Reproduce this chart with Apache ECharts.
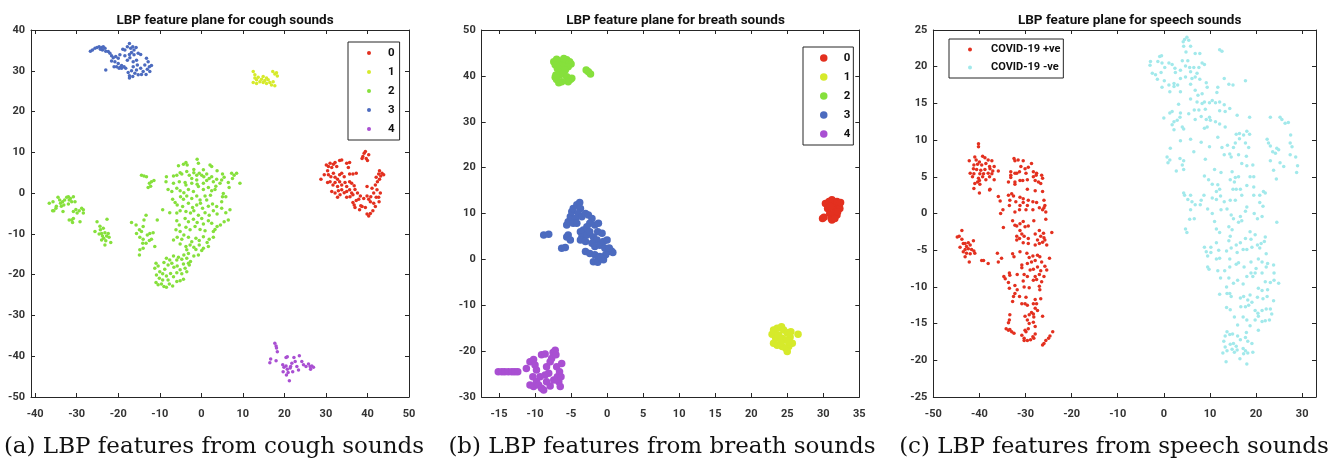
<!DOCTYPE html>
<html>
<head>
<meta charset="utf-8">
<script src="https://cdn.jsdelivr.net/npm/echarts@6/dist/echarts.min.js"></script>
<style>
html, body { margin: 0; padding: 0; background: #fff; }
#chart { width: 1338px; height: 466px; }
</style>
</head>
<body>
<div id="chart"></div>
<script>
// ---- 数据: 咳嗽 (cough) 各类别 ----
var coughCls0 = [[28.8,3.4],[29.6,4.5],[30.1,6.9],[30.4,5.5],[30.6,6.5],[31.0,7.3],[31.4,6.3],[31.8,7.1],[32.2,7.5],[32.6,6.5],[33.3,8.0],[33.8,8.1],[30.6,4.5],[31.2,4.0],[31.8,4.9],[32.2,3.9],[32.8,3.4],[33.3,4.5],[33.8,4.9],[34.4,4.0],[35.0,7.3],[35.7,7.5],[35.4,6.3],[35.7,4.7],[36.5,4.7],[37.3,4.9],[30.4,2.6],[31.0,2.8],[31.7,2.0],[32.2,2.6],[32.8,1.6],[33.3,2.8],[33.8,2.0],[34.6,2.6],[35.0,1.6],[35.7,2.8],[36.2,2.4],[36.8,1.8],[31.4,0.4],[32.2,0.0],[33.0,0.6],[33.8,0.8],[34.4,0.1],[35.0,0.4],[35.7,0.8],[36.2,0.0],[37.0,0.9],[32.8,-1.0],[33.4,-0.4],[35.0,-1.0],[35.8,-0.9],[36.5,-0.4],[37.6,0.0],[38.3,-0.7],[37.3,-1.8],[36.5,-2.3],[36.8,-2.9],[37.9,-1.5],[38.7,-3.3],[37.0,-3.5],[38.1,-4.1],[39.1,-1.3],[39.9,-0.7],[40.3,-1.5],[40.8,-0.9],[41.5,0.0],[39.9,1.6],[41.1,1.2],[41.9,2.0],[42.4,2.8],[42.9,3.4],[43.2,4.2],[43.5,4.9],[43.9,4.5],[42.7,4.7],[42.9,5.5],[42.1,3.9],[42.3,0.8],[42.7,-1.0],[42.8,-2.1],[43.1,0.0],[42.1,-1.0],[40.7,-2.1],[41.5,-2.5],[41.9,-3.3],[41.3,-4.3],[40.7,-5.0],[39.9,-5.1],[40.3,-5.6],[38.4,-3.1],[39.5,-3.5],[38.9,9.0],[39.2,9.8],[39.5,10.2],[39.7,8.5],[40.0,8.0],[38.7,8.5],[40.3,9.4]];
var coughCls1 = [[12.5,29.8],[12.9,29.0],[13.3,27.8],[12.5,27.1],[13.7,28.4],[14.1,27.3],[14.5,27.9],[14.9,28.6],[15.3,27.6],[15.7,26.9],[16.1,27.8],[16.5,27.1],[16.9,26.5],[17.3,27.3],[17.7,29.2],[18.1,29.5],[18.3,28.7],[17.7,26.3],[13.3,26.9],[14.9,27.1],[12.9,28.2],[15.7,28.2],[17.2,29.8]];
var coughCls2 = [
  [-36.6,-2.5],[-35.7,-2.1],[-35.8,-4.3],[-35.0,-3.7],[-34.5,-1.0],[-34.1,-1.7],[-33.9,-2.5],[-33.4,-2.1],[-33.1,-2.9],[-33.3,-4.5],[-32.9,-1.7],[-32.4,-1.0],[-32.0,-0.9],[-31.8,-1.7],[-31.5,-1.3],[-31.2,-2.1],[-30.8,-0.9],[-30.4,-2.1],[-32.0,-2.7],[-30.8,-4.5],[-30.2,-4.0],[-29.9,-4.9],[-29.4,-4.3],[-28.8,-3.7],[-28.4,-4.1],[-28.4,-4.9],[-31.8,-6.6],[-31.2,-6.6],[-30.8,-6.2],[-29.2,-7.0],[-31.0,-7.2],[-33.7,-3.2],[-34.9,-3.2],[-35.5,-4.3],
  [-25.6,-9.4],[-25.1,-7.0],[-24.4,-8.1],[-24.3,-9.0],[-24.0,-9.9],[-23.8,-10.5],[-23.6,-8.6],[-23.5,-11.1],[-23.2,-9.7],[-23.0,-11.7],[-22.8,-10.5],[-22.7,-6.4],[-22.4,-9.9],[-22.2,-10.8],[-21.8,-12.1],[-23.2,-12.7],[-24.0,-11.5],[-24.6,-10.0],
  [-16.8,-7.2],[-15.7,-7.8],[-14.9,-9.0],[-14.4,-9.4],[-14.0,-8.2],[-13.3,-5.4],[-13.8,-6.6],[-14.8,-10.8],[-14.0,-11.3],[-13.0,-10.3],[-12.4,-9.9],[-11.6,-9.7],[-12.0,-11.3],[-12.5,-11.6],[-11.2,-13.1],[-13.3,-12.3],[-14.0,-13.5],[-14.8,-13.9],[-14.9,-15.2],[-14.1,-12.3],[-15.6,-9.9],[-10.6,-6.6],
  [-14.4,4.4],[-13.8,4.2],[-13.2,4.0],[-12.5,2.4],[-12.0,2.8],[-11.4,3.1],[-12.2,1.7],[-12.8,1.4],
  [-5.5,6.7],[-4.3,7.1],[-3.7,7.5],[-3.4,6.9],[-1.0,8.3],[-0.7,7.3],[-1.8,5.8],[0.5,5.7],[2.1,6.9],[2.5,6.5],[3.8,5.5],[5.1,4.7],[7.3,4.9],[7.9,4.4],[8.5,4.9],[7.5,3.6],[9.3,2.4],
  [-8.4,4.0],[-8.5,2.8],[-6.7,4.2],[-5.9,4.4],[-5.1,5.0],[-4.7,4.7],[-3.5,5.3],[-2.9,4.4],[-2.3,3.6],[-1.8,5.0],[-1.1,4.4],[-0.5,4.9],[0.1,4.4],[0.6,4.0],[1.3,4.7],[1.9,3.6],[2.5,4.0],[2.9,2.8],[3.7,3.4],[4.9,3.2],[5.5,3.9],[-6.7,2.4],[-5.3,2.8],[-3.9,2.6],[-2.3,2.4],[-1.1,3.2],[0.5,2.4],[1.3,3.1],[3.5,1.7],[4.5,2.4],[6.5,2.6],[6.7,1.4],
  [-8.0,0.9],[-7.1,0.4],[-5.9,1.2],[-5.1,0.6],[-4.2,0.1],[-3.1,0.9],[-1.9,0.4],[-0.7,1.6],[0.5,0.9],[1.7,1.4],[2.5,0.6],[3.3,0.9],[-3.7,2.0],[-1.0,2.2],[5.3,-0.1],[5.9,-0.9],[5.1,-0.9],[-6.9,-1.5],[-6.3,-2.3],[-5.0,-0.9],[-4.3,-1.5],[-3.5,-0.7],[-2.3,-1.3],[-1.1,-0.7],[-0.3,-1.7],[0.9,-0.7],[1.3,-1.7],[2.2,-0.5],[2.7,-2.7],[4.9,-2.1],
  [-5.8,-2.9],[-4.5,-3.3],[-3.1,-2.5],[-2.1,-3.5],[-1.1,-2.9],[-0.2,-2.5],[0.3,-3.7],[1.7,-3.2],[3.7,-3.3],[4.9,-3.7],[5.9,-4.8],[6.9,-4.1],[2.9,-4.3],[3.8,-5.1],[-5.9,-4.9],[-5.1,-4.3],[-3.7,-4.5],[-2.6,-4.9],[-1.8,-4.3],[-0.7,-5.4],[0.9,-4.8],[1.9,-5.4],[-7.6,-4.8],[-9.3,-4.1],
  [-5.9,-6.8],[-5.3,-7.8],[-3.9,-6.2],[-3.1,-7.0],[-1.9,-6.4],[-1.0,-7.2],[0.1,-6.2],[0.5,-7.6],[1.7,-6.8],[2.5,-7.4],[3.3,-8.9],[3.8,-8.2],[4.6,-7.8],[5.5,-7.0],[6.5,-6.6],[-6.1,-9.0],[-5.1,-9.4],[-3.7,-8.4],[-2.7,-9.0],[-1.5,-8.2],[-0.3,-8.9],[0.9,-9.2],[2.9,-9.4],
  [-6.7,-11.5],[-5.8,-10.8],[-4.7,-11.3],[-4.2,-10.3],[-3.1,-10.8],[-2.3,-11.9],[-1.3,-11.1],[-0.5,-11.6],[0.5,-10.7],[1.4,-12.1],[1.9,-11.3],[2.9,-10.8],[-5.1,-12.5],[-3.7,-13.1],[-2.7,-12.7],[-1.8,-13.3],[-0.5,-12.7],[0.5,-13.5],[1.7,-13.1],[-3.5,-13.9],[-1.3,-13.8],[0.1,-14.1],
  [-6.7,-15.4],[-5.5,-15.7],[-4.2,-15.2],[-3.1,-14.8],[-1.8,-15.4],[-0.7,-15.2],[-8.4,-16.0],[-7.6,-16.4],[-5.9,-16.4],[-4.7,-16.2],[-3.5,-16.0],[-2.6,-16.8],[-3.1,-17.2],[-4.3,-17.4],
  [-10.9,-17.2],[-11.2,-18.4],[-10.4,-17.9],[-10.0,-19.3],[-9.0,-17.0],[-8.8,-18.7],[-8.0,-17.6],[-7.1,-17.2],[-6.6,-18.2],[-5.8,-17.9],[-5.1,-18.8],[-3.9,-18.4],[-2.9,-17.6],[-10.8,-20.1],[-10.1,-20.9],[-9.3,-19.8],[-8.4,-20.3],[-7.4,-19.7],[-6.7,-20.5],[-5.9,-19.5],[-4.7,-19.8],[-3.5,-19.3],[-10.9,-21.9],[-10.4,-22.5],[-9.6,-22.3],[-9.0,-22.9],[-8.4,-23.1],[-7.7,-22.3],[-6.9,-22.8],[-5.9,-21.7],[-5.1,-21.5],[-4.3,-21.1],[-9.3,-21.3],[-8.0,-21.3]
];
var coughCls3 = [[-26.7,34.8],[-26.2,35.1],[-25.6,35.5],[-25.1,35.7],[-24.6,35.9],[-24.0,35.7],[-23.6,35.9],[-23.2,35.5],[-23.8,35.1],[-24.3,35.3],[-23.0,34.8],[-22.4,34.7],[-22.0,34.3],[-21.6,33.7],[-21.2,33.2],[-20.6,33.5],[-20.0,33.1],[-21.6,32.4],[-20.8,32.2],[-19.6,33.9],[-18.9,35.3],[-18.4,35.1],[-17.8,35.9],[-17.3,36.7],[-17.0,35.5],[-16.5,35.9],[-16.2,35.1],[-15.7,35.7],[-16.8,34.5],[-17.3,34.0],[-18.4,33.7],[-17.8,32.6],[-17.2,33.2],[-16.2,33.9],[-15.2,34.3],[-14.6,34.0],[-16.4,32.2],[-15.6,32.6],[-13.2,33.1],[-12.8,32.2],[-12.5,31.0],[-12.0,31.3],[-13.6,31.4],[-13.0,30.4],[-14.0,29.8],[-13.3,29.1],[-12.4,29.8],[-14.6,30.6],[-15.6,30.2],[-16.0,29.4],[-16.8,30.0],[-17.6,29.6],[-17.3,28.8],[-16.5,28.6],[-18.2,30.6],[-18.6,31.0],[-19.2,31.3],[-19.6,30.8],[-20.0,31.8],[-20.4,31.0],[-21.0,31.0],[-19.8,30.6],[-19.2,30.6],[-23.0,30.2],[-15.2,29.0],[-14.4,29.1],[-17.3,28.2],[-16.4,31.0],[-15.4,31.4]];
var coughCls4 = [[17.7,-36.8],[18.0,-37.5],[18.1,-38.0],[18.3,-38.9],[16.7,-40.7],[16.5,-41.6],[18.0,-41.1],[19.6,-42.1],[19.9,-42.7],[20.4,-42.4],[19.7,-43.8],[20.7,-43.2],[20.9,-44.0],[20.5,-44.6],[21.2,-46.0],[21.5,-42.5],[22.0,-43.8],[22.3,-40.3],[22.6,-41.3],[23.0,-42.5],[23.4,-43.4],[23.6,-39.9],[24.2,-41.3],[24.6,-42.1],[25.2,-42.5],[25.8,-41.9],[26.2,-42.5],[26.6,-42.4],[27.0,-42.7],[26.3,-43.2],[20.4,-40.3],[21.8,-41.7],[20.7,-40.1],[21.4,-42.9]];

// ---- 数据: 呼吸 (breath) 各类别 ----
var breathCls0 = [[29.9,8.9],[30.1,9.2],[30.3,12.2],[30.6,11.1],[30.9,10.0],[31.1,8.9],[31.2,8.6],[30.8,12.6],[31.2,13.0],[31.5,11.8],[31.7,10.8],[31.9,9.7],[31.9,12.6],[32.2,11.8],[32.3,11.1],[32.4,12.4],[31.4,10.0],[31.0,11.5],[31.6,8.9],[32.0,10.4]];
var breathCls1 = [[22.9,-16.3],[23.1,-15.4],[23.6,-15.0],[24.2,-14.7],[24.5,-15.4],[25.0,-16.0],[25.4,-16.9],[25.7,-18.3],[25.2,-19.0],[24.8,-19.4],[25.0,-20.1],[24.3,-19.0],[23.6,-18.7],[23.1,-18.3],[23.4,-17.2],[23.8,-16.5],[24.3,-17.2],[24.8,-17.6],[25.2,-17.9],[24.1,-18.2],[26.5,-16.3],[25.5,-15.8]];
var breathCls2 = [[-7.4,43.1],[-7.0,43.6],[-6.7,43.3],[-7.2,42.4],[-6.9,41.6],[-6.5,42.0],[-6.4,40.9],[-6.6,40.2],[-6.1,42.7],[-5.8,43.1],[-5.6,43.5],[-5.2,43.1],[-5.0,42.6],[-5.4,42.0],[-5.8,41.3],[-6.1,40.4],[-5.6,39.8],[-5.1,39.2],[-4.9,39.5],[-5.4,38.7],[-6.3,38.7],[-7.0,39.2],[-7.2,39.7],[-6.7,38.5],[-2.9,41.3],[-2.6,40.9],[-2.3,40.4],[-6.0,43.8],[-7.1,40.2]];
var breathCls3 = [[-8.8,5.3],[-8.1,5.5],[-6.3,2.4],[-5.8,2.6],[-5.6,4.9],[-5.4,5.3],[-5.1,4.2],[-5.6,7.5],[-5.4,8.2],[-5.1,9.3],[-4.9,10.4],[-4.7,11.1],[-4.2,11.9],[-3.8,12.4],[-3.7,11.1],[-4.0,10.0],[-4.4,8.9],[-4.7,7.9],[-4.2,7.9],[-3.5,9.3],[-3.0,10.0],[-2.6,9.7],[-2.1,8.9],[-2.4,7.9],[-2.8,7.1],[-3.3,6.4],[-3.7,6.0],[-3.5,4.9],[-2.8,5.3],[-2.4,6.0],[-1.7,7.5],[-1.2,7.9],[-1.3,6.0],[-0.7,5.7],[-1.9,4.9],[-1.4,4.2],[-2.1,3.5],[-1.7,2.8],[-1.0,3.1],[-0.5,3.9],[0.0,4.2],[-0.3,2.4],[-3.0,1.7],[-2.4,1.3],[-1.7,1.0],[-1.0,0.6],[-1.2,-0.1],[-1.9,-0.5],[-0.5,-0.1],[0.2,1.7],[-3.7,4.2],[-3.0,3.9],[0.6,1.8],[0.8,1.5],[0.3,2.5],[-0.2,1.0],[-1.3,-0.6],[-0.8,0.3]];
var breathCls4 = [[-15.1,-24.5],[-14.6,-24.5],[-14.2,-24.5],[-13.7,-24.5],[-13.2,-24.5],[-12.8,-24.5],[-12.4,-24.5],[-11.2,-23.8],[-10.7,-22.3],[-10.2,-21.8],[-10.0,-23.0],[-9.8,-24.1],[-10.3,-25.6],[-10.7,-27.4],[-10.2,-27.7],[-9.8,-26.7],[-9.5,-27.4],[-9.1,-28.1],[-8.8,-28.5],[-9.3,-25.6],[-9.1,-20.8],[-8.6,-20.6],[-8.4,-23.4],[-8.1,-24.8],[-7.9,-22.3],[-7.7,-21.6],[-7.5,-20.3],[-7.2,-19.8],[-7.1,-20.8],[-7.0,-23.4],[-6.9,-25.6],[-6.7,-26.7],[-6.5,-27.7],[-6.6,-24.5],[-6.3,-22.7],[-6.4,-25.6],[-7.4,-26.3],[-7.9,-27.6],[-8.4,-26.7],[-8.6,-25.2]];

// ---- 数据: 语音 (speech) ----
var speechPos = [
  [-40.2,9.5],[-40.2,9.1],
  [-42.2,7.2],[-41.0,7.7],[-40.7,7.3],[-40.0,7.0],[-39.3,7.8],[-38.8,7.6],[-38.1,7.3],[-37.3,7.2],[-41.2,6.6],[-40.4,6.7],[-39.5,6.6],[-38.6,6.8],[-37.8,6.4],[-36.8,6.4],[-41.3,6.1],[-40.6,6.0],[-39.7,5.9],[-38.8,6.0],[-37.7,6.1],[-37.1,5.8],[-42.0,5.5],[-41.2,5.4],[-39.9,5.4],[-39.1,5.4],[-38.1,5.5],[-37.3,5.4],[-35.9,5.8],[-41.5,5.0],[-40.2,4.8],[-39.3,5.0],[-38.6,4.6],[-37.8,5.0],[-36.8,4.6],[-40.4,4.3],[-40.0,4.5],[-41.0,4.1],[-39.9,4.0],[-41.2,3.4],[-40.0,2.8],[-37.7,3.3],[-37.8,3.2],
  [-44.8,-3.2],[-44.4,-3.1],[-43.8,-2.3],[-43.8,-3.5],[-43.5,-4.1],[-44.2,-4.6],[-43.1,-4.1],[-42.8,-4.5],[-42.4,-4.0],[-42.0,-4.3],[-43.1,-4.9],[-42.4,-4.8],[-41.7,-4.9],[-41.3,-3.7],[-43.5,-5.2],[-42.8,-5.4],[-42.0,-5.5],[-41.2,-5.1],[-41.0,-5.4],[-43.1,-5.9],[-42.2,-6.6],[-39.5,-6.4],[-39.1,-6.4],[-38.1,-6.8],
  [-35.9,2.3],[-35.5,1.7],[-34.9,0.5],[-35.4,0.0],[-34.8,-1.9],[-36.1,-5.4],[-35.2,-6.1],[-35.9,-6.6],
  [-32.5,7.5],[-32.3,7.2],[-31.6,7.3],[-30.5,7.2],[-28.7,6.8],[-31.0,6.4],[-30.1,6.1],[-29.4,6.3],[-31.3,5.7],[-32.3,5.5],[-33.2,5.7],[-33.2,5.2],[-31.9,5.5],[-29.9,5.5],[-28.3,5.7],[-27.6,5.5],[-27.7,5.2],[-26.5,5.2],[-26.3,4.8],[-28.3,5.0],[-29.6,4.6],[-30.6,4.5],[-31.2,4.5],[-32.3,4.3],[-32.3,4.0],[-33.2,4.9],[-33.7,4.3],[-27.9,4.5],[-27.2,4.3],[-26.7,4.1],
  [-29.6,3.3],[-27.9,3.1],[-26.3,3.0],[-33.7,2.5],[-33.0,2.7],[-32.6,2.4],[-31.2,2.2],[-30.5,2.0],[-29.4,1.8],[-28.4,1.6],[-32.1,1.6],[-33.4,1.8],[-33.5,1.1],[-31.2,1.1],[-30.5,1.5],[-29.6,1.1],[-27.6,1.5],[-26.0,1.8],[-25.8,1.1],[-26.0,0.8],[-26.3,0.5],[-25.6,0.2],[-31.3,0.5],[-32.3,0.2],[-29.9,0.5],[-28.4,0.5],[-27.0,0.8],
  [-25.6,-0.8],[-32.8,-1.0],[-32.3,-1.6],[-31.9,-1.7],[-31.2,-1.4],[-30.5,-1.1],[-30.1,-1.8],[-29.4,-1.7],[-31.2,-2.3],[-30.8,-2.8],[-31.9,-3.1],[-31.3,-3.4],[-30.3,-3.1],[-29.4,-3.4],[-28.2,-1.0],[-27.9,-2.8],[-27.0,-2.3],[-26.7,-3.1],[-26.1,-2.7],[-26.0,-3.3],[-24.3,-2.6],[-27.4,-3.6],[-26.3,-3.9],[-25.8,-3.6],[-25.4,-4.3],[-29.4,-4.1],[-30.5,-4.0],[-31.9,-3.6],[-27.9,-4.3],[-27.0,-4.1],
  [-32.8,-5.5],[-32.5,-5.9],[-31.2,-5.2],[-29.7,-5.4],[-29.2,-6.0],[-28.4,-5.8],[-27.4,-5.7],[-26.9,-5.9],[-28.7,-6.6],[-27.9,-6.4],[-26.5,-6.6],[-25.8,-7.2],[-24.8,-6.1],[-30.8,-7.0],[-30.8,-7.4],[-29.6,-6.8],[-29.0,-7.7],[-28.3,-7.6],[-27.4,-7.3],[-26.7,-7.8],[-25.4,-7.7],[-33.5,-8.1],[-33.4,-8.4],[-31.8,-8.3],[-30.3,-8.3],[-29.6,-8.6],[-27.9,-8.6],[-27.0,-8.3],[-26.0,-8.6],[-34.7,-8.6],[-34.4,-8.9],[-33.7,-9.4],[-30.5,-9.2],[-28.3,-9.1],[-27.6,-9.0],[-26.5,-9.3],
  [-33.5,-10.2],[-32.3,-9.8],[-31.8,-10.4],[-30.3,-10.0],[-29.2,-10.1],[-27.0,-9.9],[-26.9,-10.4],[-32.3,-10.9],[-32.6,-11.3],[-31.3,-11.3],[-29.9,-11.4],[-27.9,-11.7],[-26.7,-11.6],[-32.8,-12.0],[-30.8,-12.3],[-30.1,-12.3],[-29.6,-12.5],[-28.3,-12.3],[-27.6,-12.3],[-27.9,-12.9],[-27.4,-13.2],[-28.7,-13.5],[-28.3,-13.7],[-28.2,-14.1],[-30.1,-14.0],[-29.2,-13.8],[-26.3,-14.0],[-33.4,-13.8],[-33.5,-14.5],
  [-33.7,-14.9],[-34.2,-15.7],[-33.7,-15.9],[-33.0,-16.1],[-32.5,-16.3],[-33.4,-15.8],[-30.8,-16.6],[-30.1,-15.9],[-29.9,-16.1],[-29.4,-15.7],[-29.2,-15.0],[-29.6,-14.5],[-28.3,-14.8],[-27.9,-15.4],[-30.3,-17.0],[-30.3,-17.3],[-29.6,-17.3],[-28.9,-17.2],[-28.4,-16.8],[-27.9,-16.4],[-28.2,-17.0],[-26.3,-17.9],[-26.0,-17.7],[-25.0,-17.0],[-24.7,-16.7],[-24.1,-16.1],[-25.6,-17.3]
];
var speechNeg = [
  [4.2,23.4],[4.5,23.7],[5.0,24.0],[5.4,23.6],[4.3,22.8],[5.8,22.8],[4.8,22.0],[6.8,21.8],[7.8,21.8],[12.1,22.3],[12.6,22.1],
  [-0.9,21.4],[-0.5,21.5],[-2.9,20.7],[-3.0,20.2],[-1.3,20.7],[-0.4,20.5],[0.2,19.9],[1.1,20.5],[1.8,20.3],[2.4,19.8],[4.0,20.8],[5.2,20.8],[4.7,20.1],[5.6,19.9],[6.5,19.9],[8.3,20.5],[8.8,20.3],[-2.5,19.1],[-1.8,18.9],[-0.6,19.2],[2.5,19.2],[3.6,19.5],[5.8,19.3],[7.2,19.1],[7.6,19.9],
  [-1.4,18.3],[0.1,18.1],[1.1,17.5],[2.2,17.7],[3.0,17.5],[3.6,18.4],[4.7,18.6],[6.1,18.4],[6.8,18.6],[7.8,18.3],[9.2,17.8],[13.1,18.4],[14.1,17.6],[15.0,17.5],[17.7,18.1],[-0.4,17.2],[1.3,16.6],[2.2,17.3],[3.6,16.6],[5.8,17.6],[6.8,16.8],[9.4,17.2],[11.7,17.2],[11.5,16.5],[7.4,16.1],[8.3,16.3],
  [3.2,14.9],[5.8,15.6],[7.2,15.2],[8.3,15.0],[8.8,15.2],[9.9,15.1],[10.5,15.4],[11.2,15.1],[12.1,15.2],[13.1,14.8],[14.3,14.3],[6.6,14.1],[7.6,14.1],[9.0,14.2],[12.1,14.0],[13.3,13.9],[1.3,13.7],[1.8,13.9],[3.6,13.7],[5.4,13.6],[8.1,13.2],[9.9,13.1],[15.9,13.4],[18.6,13.1],[23.1,13.1],[25.2,13.1],
  [0.0,13.0],[2.2,12.5],[2.9,12.7],[3.5,13.1],[6.8,12.8],[9.2,12.8],[10.1,12.7],[11.2,12.5],[12.1,12.2],[1.8,12.1],[4.0,11.8],[2.2,11.4],[4.3,11.5],[8.8,11.6],[9.4,11.8],[13.3,11.8],[25.6,12.8],[26.3,12.3],[27.0,12.4],[27.5,10.7],[11.7,10.4],[15.7,10.8],[16.4,10.9],[17.3,10.7],[18.0,11.2],[18.6,10.8],[22.4,10.1],
  [3.6,9.9],[5.8,10.1],[8.1,9.7],[9.9,9.1],[12.6,9.0],[13.8,9.3],[15.1,9.0],[16.4,10.2],[17.7,9.6],[18.4,9.0],[15.5,9.6],[1.4,8.9],[6.5,8.4],[13.1,8.0],[14.3,8.1],[14.6,7.7],[16.2,8.0],[17.9,7.8],[22.7,9.6],[23.1,9.2],[24.5,8.9],[23.6,8.4],[24.2,8.2],[24.9,8.7],[27.4,9.6],[27.8,9.1],[27.4,8.0],[28.6,7.7],
  [0.7,7.7],[1.3,7.3],[0.9,6.9],[3.5,7.5],[4.3,7.2],[4.0,6.6],[2.7,5.8],[4.3,6.0],[9.0,7.4],[16.9,6.8],[18.0,6.5],[19.3,6.6],[23.1,7.2],[25.2,6.9],[26.0,6.4],[23.8,5.9],[29.0,6.5],[28.8,5.6],[11.0,6.0],[12.4,5.6],[14.8,5.7],[15.5,4.9],[16.2,5.0],[18.7,5.0],[19.5,5.0],[8.8,5.1],[24.4,4.7],
  [9.7,4.6],[10.5,4.0],[11.7,3.9],[12.1,3.3],[14.4,4.6],[15.3,4.3],[15.0,3.3],[15.7,3.3],[16.6,3.3],[18.0,3.8],[19.5,3.6],[21.6,3.0],[22.0,2.8],[4.3,2.8],[4.5,2.5],[5.8,2.5],[8.7,2.5],[11.4,3.0],[12.3,2.4],[19.5,2.5],[20.8,2.5],
  [5.2,1.9],[6.1,1.6],[6.8,1.2],[8.1,1.8],[10.5,2.1],[11.4,1.9],[13.1,1.6],[14.4,1.8],[15.5,1.8],[16.9,2.5],[18.0,0.9],[20.8,1.5],[21.5,1.0],[5.8,0.5],[7.9,1.2],[9.5,0.6],[10.5,0.0],[12.4,0.5],[13.7,0.6],[14.6,-0.2],[16.6,-0.4],[17.7,0.3],[19.6,0.0],[20.3,-0.7],[21.3,-0.4],[5.6,-0.8],[6.6,-0.7],
  [11.0,-1.1],[15.1,-0.7],[16.2,-1.2],[16.9,-1.0],[24.5,-1.2],[4.7,-2.1],[5.0,-2.6],[11.4,-2.1],[12.1,-2.6],[14.1,-1.8],[14.8,-2.2],[14.4,-3.1],[18.7,-2.5],[19.8,-2.9],[22.0,-3.2],[21.8,-3.8],[11.4,-4.0],[14.1,-3.7],[15.7,-4.3],[16.6,-4.0],[17.7,-3.4],[18.9,-3.5],[20.3,-4.3],[21.1,-4.1],
  [8.8,-4.6],[10.2,-4.6],[9.2,-5.2],[10.2,-5.3],[11.9,-5.0],[13.6,-5.1],[14.6,-4.7],[15.9,-5.3],[17.2,-4.9],[18.0,-4.9],[19.1,-4.6],[20.8,-4.7],[22.2,-5.5],[9.5,-5.8],[11.4,-6.2],[12.1,-6.1],[14.3,-6.2],[15.7,-6.9],[16.2,-6.7],[17.4,-7.3],[18.9,-6.6],[20.5,-6.2],[21.3,-6.6],[22.5,-6.8],[23.8,-7.0],
  [9.5,-7.3],[9.8,-7.6],[11.7,-7.8],[13.2,-7.8],[14.3,-7.3],[18.9,-8.1],[20.0,-7.5],[21.3,-8.1],[22.2,-7.3],[12.3,-8.8],[14.1,-8.8],[16.0,-9.1],[17.2,-9.6],[18.0,-8.6],[19.3,-8.6],[19.8,-8.1],[23.9,-8.1],[22.0,-9.3],[23.1,-9.4],[23.9,-9.1],[24.9,-9.5],[13.6,-10.0],[15.1,-9.5],[20.5,-10.2],[21.3,-10.5],[22.5,-10.4],
  [13.7,-10.9],[14.3,-10.9],[12.1,-11.0],[14.6,-11.3],[16.6,-11.5],[17.3,-11.3],[18.2,-11.8],[18.7,-11.1],[19.1,-12.1],[20.3,-11.4],[21.5,-11.6],[22.4,-11.3],[23.8,-11.9],[13.6,-12.8],[14.4,-13.1],[16.7,-12.7],[17.7,-12.7],[18.4,-12.5],[19.8,-13.2],[20.4,-13.6],[21.3,-13.2],[22.2,-13.0],[23.1,-13.0],[23.4,-13.7],
  [15.3,-14.1],[17.2,-14.1],[18.0,-14.5],[19.8,-14.5],[20.5,-14.0],[21.3,-14.7],[22.0,-14.6],[22.9,-14.5],[16.0,-15.2],[18.7,-15.3],[20.5,-15.9],[13.7,-16.1],[14.3,-16.5],[14.9,-16.4],[13.3,-16.7],[16.0,-16.7],[16.6,-17.2],[17.9,-16.2],[17.7,-16.9],[18.2,-17.4],
  [13.0,-17.4],[14.4,-17.8],[15.1,-17.7],[15.7,-18.1],[13.3,-18.2],[13.7,-18.7],[14.8,-18.5],[15.3,-18.9],[12.8,-19.0],[17.2,-18.4],[17.7,-18.7],[17.3,-19.1],[18.2,-19.0],[19.3,-18.9],[15.9,-18.6],[19.1,-17.7],
  [18.0,-20.5],[13.5,-20.2],[16.5,-19.8]
];

// ---- 刻度 / 文字 ----
var coughXTicks = [-40, -30, -20, -10, 0, 10, 20, 30, 40, 50];
var breathXTicks = [-15, -10, -5, 0, 5, 10, 15, 20, 25, 30, 35];
var speechXTicks = [-50, -40, -30, -20, -10, 0, 10, 20, 30];
var classNames = ['0', '1', '2', '3', '4'];
var speechNames = ['COVID-19 +ve', 'COVID-19 -ve'];
var titles = ['LBP feature plane for cough sounds', 'LBP feature plane for breath sounds', 'LBP feature plane for speech sounds'];
var captions = ['(a) LBP features from cough sounds', '(b) LBP features from breath sounds', '(c) LBP features from speech sounds'];

var classColors = ['#e3301f', '#d6ea2b', '#86e03c', '#4c6bbf', '#a94fd2'];
var speechColors = ['#e3301f', '#a2e9eb'];

var AX = '#262626';
var FONT = 'Roboto, "Liberation Sans", sans-serif';

// 网格位置
var grids = [
    { left: 31, top: 30, width: 378, height: 367 },
    { left: 481.7, top: 30, width: 377.6, height: 367 },
    { left: 933.3, top: 30, width: 382.7, height: 367 }
];
var xRange = [[-41, 50], [-17.4, 35], [-50, 33]];
var yRange = [[-50, 40, 10], [-30, 50, 10], [-25, 25, 5]];
var xTickSets = [coughXTicks, breathXTicks, speechXTicks];

var xAxes = [], yAxes = [];
grids.forEach(function (g, i) {
    // 底部 + 顶部 (镜像刻度)
    ['bottom', 'top'].forEach(function (pos) {
        xAxes.push({
            type: 'value', gridIndex: i, position: pos,
            min: xRange[i][0], max: xRange[i][1],
            axisLine: { onZero: false, lineStyle: { color: AX, width: 1 } },
            axisTick: { inside: true, length: 4, customValues: xTickSets[i], lineStyle: { color: AX } },
            axisLabel: {
                show: pos === 'bottom', customValues: xTickSets[i], margin: 12,
                color: '#333', fontFamily: FONT, fontSize: 11, fontWeight: 'bold'
            },
            splitLine: { show: false }
        });
    });
    ['left', 'right'].forEach(function (pos) {
        yAxes.push({
            type: 'value', gridIndex: i, position: pos,
            min: yRange[i][0], max: yRange[i][1], interval: yRange[i][2],
            axisLine: { onZero: false, lineStyle: { color: AX, width: 1 } },
            axisTick: { inside: true, length: 4, lineStyle: { color: AX } },
            axisLabel: {
                show: pos === 'left', margin: 6,
                color: '#333', fontFamily: FONT, fontSize: 11, fontWeight: 'bold'
            },
            splitLine: { show: false }
        });
    });
});

function scatter(name, data, gi, color, size) {
    return {
        name: name, type: 'scatter', data: data,
        xAxisIndex: gi * 2, yAxisIndex: gi * 2,
        symbol: 'circle', symbolSize: size,
        itemStyle: { color: color, opacity: 1 },
        emphasis: { disabled: true },
        silent: true, animation: false
    };
}

var coughData = [coughCls0, coughCls1, coughCls2, coughCls3, coughCls4];
var breathData = [breathCls0, breathCls1, breathCls2, breathCls3, breathCls4];
var series = [];
coughData.forEach(function (d, k) { series.push(scatter('a' + classNames[k], d, 0, classColors[k], 3.5)); });
breathData.forEach(function (d, k) { series.push(scatter('b' + classNames[k], d, 1, classColors[k], 7.5)); });
series.push(scatter('c' + speechNames[0], speechPos, 2, speechColors[0], 3.5));
series.push(scatter('c' + speechNames[1], speechNeg, 2, speechColors[1], 3.5));

function legend(prefix, names, left, top, iconSize, itemWidth, gap, padding, fs) {
    return {
        orient: 'vertical', left: left, top: top,
        data: names.map(function (n) { return prefix + n; }),
        formatter: function (n) { return n.slice(1); },
        icon: 'circle', itemWidth: itemWidth, itemHeight: iconSize, itemGap: gap,
        padding: padding, selectedMode: false,
        borderColor: AX, borderWidth: 1, backgroundColor: '#fff',
        textStyle: { color: '#111', fontFamily: FONT, fontSize: fs, fontWeight: 'bold' }
    };
}

var myChart = echarts.init(document.getElementById('chart'));
var option = {
    backgroundColor: '#fff',
    animation: false,
    title: titles.map(function (t, i) {
        return {
            text: t, left: grids[i].left + grids[i].width / 2, top: 9, textAlign: 'center',
            textStyle: { color: '#111', fontFamily: FONT, fontSize: 13.5, fontWeight: 'bold' }
        };
    }),
    grid: grids.map(function (g) {
        return { left: g.left, top: g.top, width: g.width, height: g.height, containLabel: false, outerBoundsMode: 'none' };
    }),
    xAxis: xAxes,
    yAxis: yAxes,
    legend: [
        legend('a', classNames, 348, 42, 4, 28, 7, [5, 5, 5, 19], 11.5),
        legend('b', classNames, 803, 47, 7.5, 30, 7, [5, 3, 5, 17], 11.5),
        legend('c', speechNames, 949, 39, 4, 32, 7, [5, 3, 5, 19], 11)
    ],
    graphic: captions.map(function (c, i) {
        return {
            type: 'text', x: [214, 662, 1114][i], y: 447, silent: true,
            style: {
                text: c, fill: '#111', fontSize: 23, fontFamily: '"DejaVu Serif", "Liberation Serif", serif',
                align: 'center', verticalAlign: 'middle'
            }
        };
    }),
    series: series
};
myChart.setOption(option);
</script>
</body>
</html>
